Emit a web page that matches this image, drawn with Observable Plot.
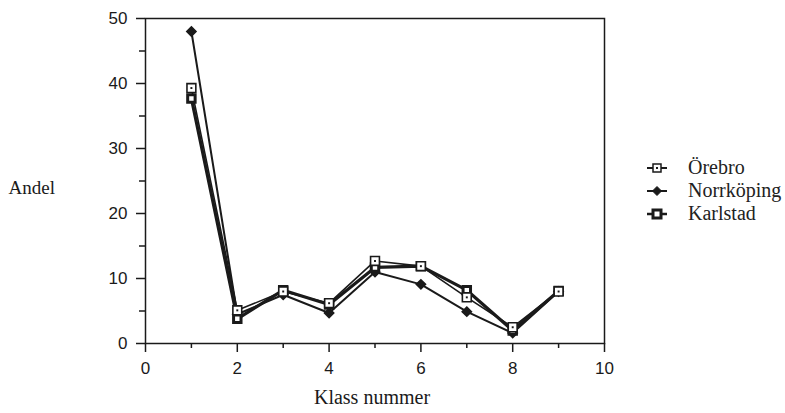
<!DOCTYPE html>
<html><head><meta charset="utf-8">
<script src="https://cdn.jsdelivr.net/npm/d3@7"></script>
<script src="https://cdn.jsdelivr.net/npm/@observablehq/plot@0.6"></script>
<style>
body{margin:0;background:#fff;}
#wrap{position:relative;width:785px;height:413px;}
#legend{position:absolute;left:646px;top:156px;}
#legend div{display:flex;align-items:center;height:23px;}
#legend svg{margin-right:20px;}
#legend span{font-family:'Liberation Serif','Times New Roman',serif;font-size:20px;color:#222;line-height:23px;white-space:nowrap;}
</style></head>
<body><div id="wrap"><div id="legend"></div></div>
<script>
const klass = [1,2,3,4,5,6,7,8,9];
const orebro = [39.3,5.1,8.0,6.2,12.7,11.9,7.1,2.5,8.0];
const norrkoping = [48.0,4.5,7.5,4.7,11.0,9.1,4.9,1.6,8.0];
const karlstad = [37.7,3.8,8.2,6.0,11.7,11.9,8.2,2.0,8.1];
const seriesNames = ["Örebro","Norrköping","Karlstad"];
const xMajor = [0,2,4,6,8,10], xMinor = [1,3,5,7,9];
const yMajor = [0,10,20,30,40,50], yMinor = [5,15,25,35,45];

const rows = (vals, name) => klass.map((k,i)=>({klass:k, andel:vals[i], serie:name}));
const dOre = rows(orebro, seriesNames[0]);
const dNor = rows(norrkoping, seriesNames[1]);
const dKar = rows(karlstad, seriesNames[2]);
const ink = "#1a1a1a";
const font = "Liberation Sans, Arial, sans-serif";
const serif = "Liberation Serif, Times New Roman, serif";

const chart = Plot.plot({
  width: 785, height: 413,
  marginLeft: 145, marginRight: 181, marginTop: 18, marginBottom: 70,
  style: {fontFamily: font, fontSize: "17px", color: ink, background: "#fff"},
  x: {domain: [0,10]},
  y: {domain: [0,50]},
  marks: [
    Plot.frame({stroke: ink, strokeWidth: 1.5}),
    Plot.axisX(xMajor, {tickSize: 9, tickPadding: 9, strokeWidth: 1.5, label: null, fontSize: 17}),
    Plot.axisX(xMinor, {tickSize: 5, tickFormat: () => "", strokeWidth: 1.5, label: null}),
    Plot.axisY(yMajor, {tickSize: 9, tickPadding: 9, strokeWidth: 1.5, label: null, fontSize: 17}),
    Plot.axisY(yMinor, {tickSize: 6, tickFormat: () => "", strokeWidth: 1.5, label: null}),
    Plot.line(dNor, {x: "klass", y: "andel", stroke: ink, strokeWidth: 2}),
    Plot.line(dOre, {x: "klass", y: "andel", stroke: ink, strokeWidth: 1.6}),
    Plot.line(dKar, {x: "klass", y: "andel", stroke: ink, strokeWidth: 3.2}),
    Plot.dot(dNor, {x: "klass", y: "andel", symbol: "diamond2", fill: ink, stroke: ink, strokeWidth: 1.5, r: 4.2}),
    Plot.dot(dKar, {x: "klass", y: "andel", symbol: "square", fill: "#fff", stroke: ink, strokeWidth: 3, r: 4.2}),
    Plot.dot(dKar, {x: "klass", y: "andel", symbol: "square", fill: "#fff", r: 1.2}),
    Plot.dot(dOre, {x: "klass", y: "andel", symbol: "square", fill: "#fff", stroke: ink, strokeWidth: 1.6, r: 5}),
    Plot.dot(dOre, {x: "klass", y: "andel", symbol: "square", fill: ink, r: 1.1}),
    Plot.text(["Andel"], {frameAnchor: "left", dx: -137, dy: 7, textAnchor: "start", text: d => d, fontFamily: serif, fontSize: 19, fill: ink}),
    Plot.text(["Klass nummer"], {frameAnchor: "bottom", dx: -3, dy: 60, text: d => d, fontFamily: serif, fontSize: 20, fill: ink})
  ]
});
document.getElementById("wrap").prepend(chart);

const lg = d3.select("#legend");
const markers = {
  "Örebro": g => { g.append("line").attr("x1",1).attr("x2",21).attr("y1",8).attr("y2",8).attr("stroke",ink).attr("stroke-width",2);
    g.append("rect").attr("x",7).attr("y",4).attr("width",8).attr("height",8).attr("fill","#fff").attr("stroke",ink).attr("stroke-width",1.5);
    g.append("rect").attr("x",10).attr("y",7).attr("width",2).attr("height",2).attr("fill",ink); },
  "Norrköping": g => { g.append("line").attr("x1",1).attr("x2",21).attr("y1",8).attr("y2",8).attr("stroke",ink).attr("stroke-width",2);
    g.append("path").attr("d","M11,3.5L15.5,8L11,12.5L6.5,8Z").attr("fill",ink).attr("stroke",ink); },
  "Karlstad": g => { g.append("line").attr("x1",1).attr("x2",21).attr("y1",8).attr("y2",8).attr("stroke",ink).attr("stroke-width",2.5);
    g.append("rect").attr("x",7).attr("y",4).attr("width",8).attr("height",8).attr("fill","#fff").attr("stroke",ink).attr("stroke-width",3);
    g.append("rect").attr("x",10).attr("y",7).attr("width",2).attr("height",2).attr("fill","#fff"); }
};
for (const name of seriesNames) {
  const row = lg.append("div");
  const s = row.append("svg").attr("width",22).attr("height",16);
  markers[name](s);
  row.append("span").text(name);
}
</script></body></html>
